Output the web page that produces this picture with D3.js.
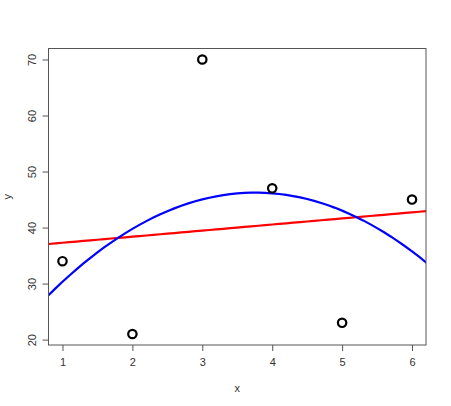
<!DOCTYPE html>
<html><head><meta charset="utf-8">
<script src="https://cdn.jsdelivr.net/npm/d3@7"></script>
<style>body{margin:0;background:#fff}svg{display:block}text{font-family:"Liberation Sans",Arial,sans-serif}</style>
</head><body>
<script>
const xs = [1, 2, 3, 4, 5, 6];
const ys = [34, 21, 70, 47, 23, 45];
const xTicks = [1, 2, 3, 4, 5, 6];
const yTicks = [20, 30, 40, 50, 60, 70];

const W = 451, H = 406;
const L = 48.5, R = 426, T = 48.5, B = 345;
const svg = d3.select("body").append("svg").attr("width", W).attr("height", H);

const x = d3.scaleLinear().domain([0.8, 6.2]).range([L, R]);
const y = d3.scaleLinear().domain([19.04, 71.96]).range([B, T]);
const curveGrid = d3.range(0, 7.001, 0.1);

// least-squares fits (linear and quadratic), as lm() would
function solve(A, b) {
  const n = b.length; A = A.map((r, i) => r.concat([b[i]]));
  for (let i = 0; i < n; i++) {
    let p = i; for (let k = i + 1; k < n; k++) if (Math.abs(A[k][i]) > Math.abs(A[p][i])) p = k;
    [A[i], A[p]] = [A[p], A[i]];
    for (let k = 0; k < n; k++) if (k !== i) { const f = A[k][i] / A[i][i]; for (let j = i; j <= n; j++) A[k][j] -= f * A[i][j]; }
  }
  return A.map((r, i) => r[n] / r[i]);
}
function fit(deg) {
  const M = [], v = [];
  for (let i = 0; i <= deg; i++) { M.push([]); v.push(d3.sum(xs, (xx, k) => Math.pow(xx, i) * ys[k]));
    for (let j = 0; j <= deg; j++) M[i].push(d3.sum(xs, xx => Math.pow(xx, i + j))); }
  return solve(M, v);
}
const lin = fit(1), quad = fit(2);
const f1 = t => lin[0] + lin[1] * t;
const f2 = t => quad[0] + quad[1] * t + quad[2] * t * t;

svg.append("defs").append("clipPath").attr("id", "clip")
  .append("rect").attr("x", L).attr("y", T).attr("width", R - L).attr("height", B - T);

const g = svg.append("g").attr("clip-path", "url(#clip)");
const line = d3.line().x(d => x(d[0])).y(d => y(d[1]));
g.append("path").datum(curveGrid.map(t => [t, f1(t)])).attr("d", line)
  .attr("fill", "none").attr("stroke", "#ff0000").attr("stroke-width", 2.2);
g.append("path").datum(curveGrid.map(t => [t, f2(t)])).attr("d", line)
  .attr("fill", "none").attr("stroke", "#0000ff").attr("stroke-width", 2.2);

svg.selectAll("circle.pt").data(xs).enter().append("circle")
  .attr("cx", d => x(d)).attr("cy", (d, i) => y(ys[i])).attr("r", 4.2)
  .attr("fill", "none").attr("stroke", "#000").attr("stroke-width", 2.2);

// box
svg.append("rect").attr("x", L).attr("y", T).attr("width", R - L).attr("height", B - T)
  .attr("fill", "none").attr("stroke", "#555").attr("stroke-width", 1);

// axes
const xa = svg.append("g").attr("transform", `translate(0,${B})`)
  .call(d3.axisBottom(x).tickValues(xTicks).tickSize(6).tickPadding(7).tickFormat(d3.format("d")));
const ya = svg.append("g").attr("transform", `translate(${L},0)`)
  .call(d3.axisLeft(y).tickValues(yTicks).tickSize(6).tickPadding(7).tickFormat(d3.format("d")));
[xa, ya].forEach(a => {
  a.select(".domain").remove();
  a.selectAll("line").attr("stroke", "#555");
  a.selectAll("text").attr("fill", "#333").style("font-size", "11px").style("font-family", '"Liberation Sans",Arial,sans-serif');
});
ya.selectAll(".tick text").attr("transform", "rotate(-90)").attr("x", 0).attr("dy", 0)
  .attr("y", -13).attr("text-anchor", "middle");

svg.append("text").attr("x", (L + R) / 2).attr("y", 392).attr("text-anchor", "middle")
  .attr("fill", "#333").style("font-size", "11px").text("x");
svg.append("text").attr("transform", `translate(11,${(T + B) / 2}) rotate(-90)`).attr("text-anchor", "middle")
  .attr("fill", "#333").style("font-size", "11px").text("y");
</script>
</body></html>
